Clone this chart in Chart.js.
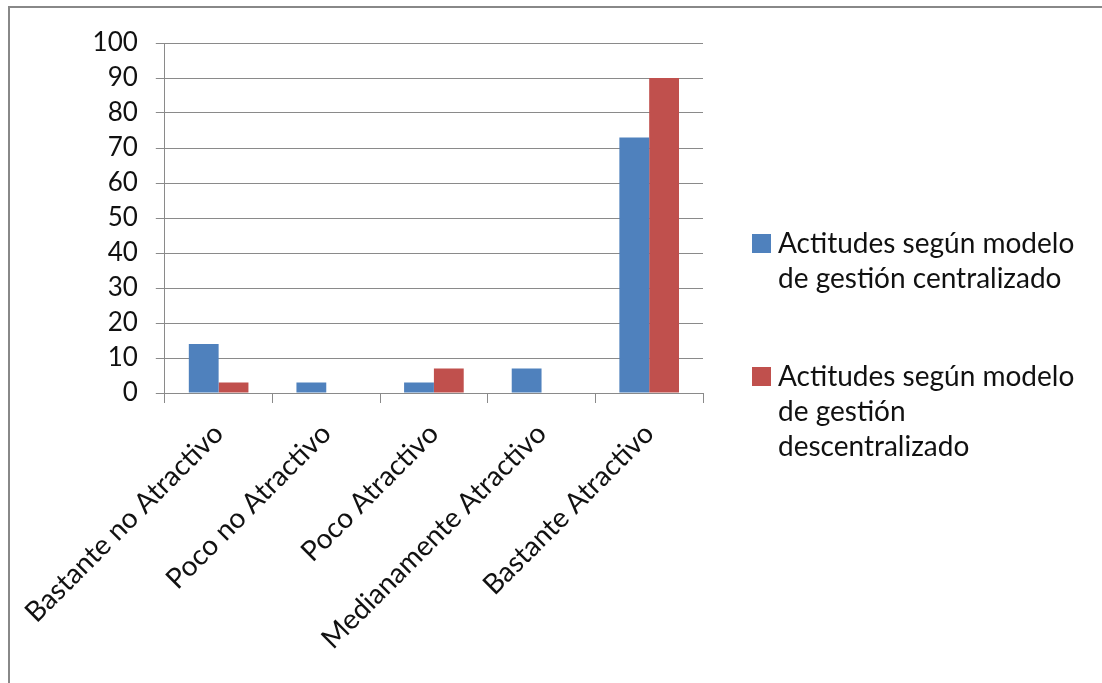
<!DOCTYPE html>
<html>
<head>
<meta charset="utf-8">
<script src="https://cdn.jsdelivr.net/npm/chart.js@4.4.0/dist/chart.umd.min.js"></script>
<style>
  html, body { margin: 0; padding: 0; background: #fff; }
  #wrap { position: relative; width: 1102px; height: 683px; overflow: hidden; background: #fff; }
  #frame { position: absolute; left: 8px; top: 6px; width: 1100px; height: 690px;
           border-top: 2px solid #888; border-left: 2px solid #888; box-sizing: border-box; }
  canvas { position: absolute; left: 0; top: 0; }
  #legend { position: absolute; left: 752px; top: 225px; font-family: Lato, "Open Sans", sans-serif;
            font-size: 28px; color: #111; line-height: 35px; white-space: nowrap; }
  .item { position: relative; padding-left: 26px; margin-bottom: 63px; }
  .sw { position: absolute; left: 0; top: 9px; width: 19px; height: 19px; }
</style>
</head>
<body>
<div id="wrap">
  <div id="frame"></div>
  <canvas id="c" width="1102" height="683"></canvas>
  <div id="legend"></div>
</div>
<script>
const categories = ["Bastante no Atractivo", "Poco no Atractivo", "Poco Atractivo", "Medianamente Atractivo", "Bastante Atractivo"];
const seriesNames = ["Actitudes según modelo de gestión centralizado", "Actitudes según modelo de gestión descentralizado"];
const legendLines = [["Actitudes según modelo", "de gestión centralizado"], ["Actitudes según modelo", "de gestión", "descentralizado"]];
const centralizado = [14, 3, 3, 7, 73];
const descentralizado = [3, 0, 7, 0, 90];
const seriesColors = ["#4F81BD", "#C0504D"];
const yTicks = [0, 10, 20, 30, 40, 50, 60, 70, 80, 90, 100];

const gridColor = "#8a8a8a";
const fontFamily = "Lato, 'Open Sans', sans-serif";

new Chart(document.getElementById("c"), {
  type: "bar",
  data: {
    labels: categories,
    datasets: [
      { label: seriesNames[0], data: centralizado, backgroundColor: seriesColors[0] },
      { label: seriesNames[1], data: descentralizado, backgroundColor: seriesColors[1] }
    ]
  },
  options: {
    responsive: false,
    animation: false,
    devicePixelRatio: 1,
    layout: { padding: { left: 0, right: 399, top: 43, bottom: 0 } },
    plugins: { legend: { display: false }, tooltip: { enabled: false } },
    datasets: { bar: { categoryPercentage: 0.554, barPercentage: 1.0 } },
    scales: {
      x: {
        grid: { display: true, drawOnChartArea: false, drawTicks: true, tickLength: 10, color: gridColor, offset: true },
        border: { display: true, color: gridColor, width: 1 },
        ticks: { color: "#111", font: { family: fontFamily, size: 28 }, minRotation: 45, maxRotation: 45, padding: 14, autoSkip: false },
        afterFit: (s) => { s.height = 290; }
      },
      y: {
        min: 0, max: 100,
        afterBuildTicks: (s) => { s.ticks = yTicks.map(v => ({ value: v })); },
        grid: { color: gridColor, tickLength: 9, drawTicks: true },
        border: { display: true, color: gridColor, width: 1 },
        ticks: { color: "#111", font: { family: fontFamily, size: 26 }, padding: 18 },
        afterFit: (s) => { s.width = 162; }
      }
    }
  }
});

const legend = document.getElementById("legend");
legendLines.forEach((lines, i) => {
  const item = document.createElement("div");
  item.className = "item";
  const sw = document.createElement("span");
  sw.className = "sw";
  sw.style.background = seriesColors[i];
  item.appendChild(sw);
  lines.forEach(t => {
    const d = document.createElement("div");
    d.textContent = t;
    item.appendChild(d);
  });
  legend.appendChild(item);
});
</script>
</body>
</html>
